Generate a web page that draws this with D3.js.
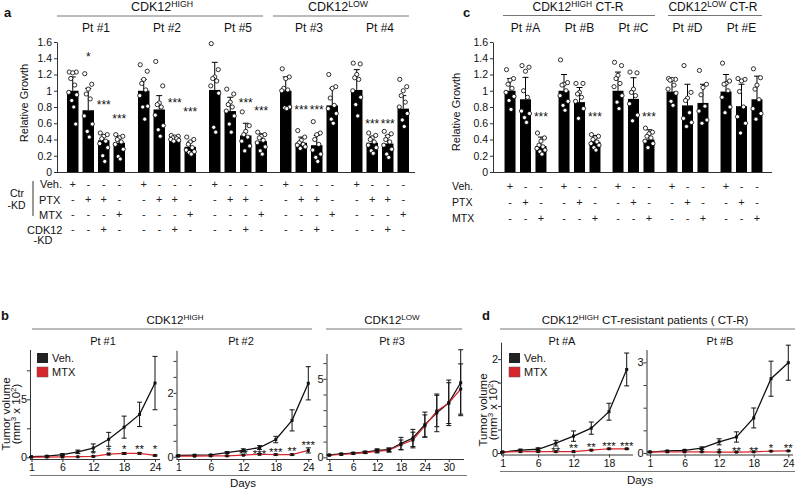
<!DOCTYPE html>
<html lang="en">
<head>
<meta charset="utf-8">
<title>CDK12 figure</title>
<script src="https://cdn.jsdelivr.net/npm/d3@7"></script>
<style>
  body { margin: 0; background: #fff; }
  svg { font-family: "Liberation Sans", Arial, Helvetica, sans-serif; }
</style>
</head>
<body>
<script>
// ---------- panel a : relative growth, Ctr-KD / CDK12-KD ----------
var groupsA = ["Pt #1", "Pt #2", "Pt #5", "Pt #3", "Pt #4"];
var meanA = [[1.0, 0.76, 0.39, 0.36], [1.0, 0.77, 0.41, 0.31], [1.01, 0.75, 0.45, 0.38],
             [1.0, 0.36, 0.33, 0.82], [1.01, 0.36, 0.35, 0.78]];
var sdA = [[0.17, 0.27, 0.07, 0.08], [0.14, 0.17, 0.03, 0.06], [0.34, 0.17, 0.15, 0.09],
           [0.17, 0.07, 0.12, 0.21], [0.25, 0.08, 0.10, 0.16]];
var dotsA = [
  [[1.23, 1.23, 1.22, 1.15, 1.07, 0.98, 0.95, 0.88, 0.80, 0.59],
   [1.21, 1.08, 1.02, 0.96, 0.90, 0.69, 0.59, 0.50, 0.43],
   [0.48, 0.46, 0.44, 0.41, 0.38, 0.35, 0.30, 0.20, 0.13],
   [0.46, 0.44, 0.42, 0.40, 0.37, 0.34, 0.28, 0.19, 0.16]],
  [[1.32, 1.24, 1.14, 1.09, 1.01, 0.94, 0.81, 0.80, 0.65],
   [1.36, 1.06, 0.85, 0.83, 0.80, 0.70, 0.57, 0.52, 0.44],
   [0.45, 0.44, 0.43, 0.42, 0.41, 0.40, 0.39, 0.38],
   [0.43, 0.40, 0.37, 0.34, 0.30, 0.27, 0.25, 0.24, 0.22]],
  [[1.58, 1.26, 1.17, 1.15, 1.12, 1.06, 0.97, 0.55, 0.49],
   [1.02, 0.96, 0.86, 0.83, 0.80, 0.75, 0.69, 0.59, 0.49],
   [0.74, 0.57, 0.50, 0.46, 0.43, 0.38, 0.32, 0.26],
   [0.49, 0.46, 0.44, 0.42, 0.39, 0.36, 0.31, 0.26, 0.22]],
  [[1.27, 1.17, 1.15, 1.03, 1.01, 1.0, 0.80, 0.79, 0.78],
   [0.51, 0.43, 0.39, 0.36, 0.34, 0.33, 0.31, 0.29],
   [0.62, 0.48, 0.46, 0.40, 0.34, 0.27, 0.22, 0.18, 0.13],
   [1.20, 1.05, 1.03, 0.91, 0.82, 0.78, 0.72, 0.65, 0.60]],
  [[1.34, 1.33, 1.20, 1.16, 1.14, 1.0, 0.92, 0.83, 0.69],
   [0.48, 0.45, 0.42, 0.40, 0.37, 0.33, 0.30, 0.26, 0.23],
   [0.50, 0.47, 0.44, 0.40, 0.37, 0.33, 0.28, 0.22, 0.18],
   [1.14, 1.05, 1.00, 0.94, 0.86, 0.80, 0.72, 0.64, 0.56]]
];
var starsA = [["", "*", "***", "***"], ["", "", "***", "***"], ["", "", "***", "***"],
              ["", "***", "***", ""], ["", "***", "***", ""]];
var starLvA = [[0, 1.45, 0.86, 0.69], [0, 0, 0.89, 0.77], [0, 0, 0.89, 0.79],
               [0, 0.80, 0.80, 0], [0, 0.63, 0.63, 0]];
var rowNamesA = ["Veh.", "PTX", "MTX", "CDK12"];
var signsA = [["+", "-", "-", "-"], ["-", "+", "+", "-"], ["-", "-", "-", "+"], ["-", "-", "+", "-"]];

// ---------- panel c : CT-resistant patients ----------
var groupsC = ["Pt #A", "Pt #B", "Pt #C", "Pt #D", "Pt #E"];
var meanC = [[1.0, 0.895, 0.32], [1.0, 0.86, 0.37], [1.0, 0.90, 0.40], [0.99, 0.82, 0.85], [0.99, 0.81, 0.895]];
var sdC = [[0.15, 0.27, 0.11], [0.20, 0.18, 0.08], [0.23, 0.26, 0.12], [0.16, 0.26, 0.23], [0.21, 0.27, 0.285]];
var dotsC = [
  [[1.26, 1.15, 1.13, 1.08, 1.03, 0.98, 0.93, 0.88, 0.77],
   [1.31, 1.29, 1.24, 1.0, 0.92, 0.75, 0.72, 0.67, 0.61],
   [0.48, 0.42, 0.38, 0.33, 0.31, 0.29, 0.27, 0.25, 0.22]],
  [[1.38, 1.10, 1.08, 1.07, 1.0, 0.94, 0.87, 0.82, 0.76],
   [1.09, 1.09, 0.98, 0.96, 0.92, 0.87, 0.78, 0.66],
   [0.46, 0.44, 0.42, 0.40, 0.37, 0.35, 0.33, 0.30, 0.27]],
  [[1.35, 1.31, 1.19, 1.15, 1.09, 1.05, 0.94, 0.86, 0.78],
   [1.23, 1.22, 1.02, 0.98, 0.94, 0.84, 0.70, 0.63],
   [0.54, 0.49, 0.47, 0.44, 0.42, 0.38, 0.35, 0.30]],
  [[1.15, 1.14, 1.14, 1.13, 1.07, 1.02, 0.97, 0.87, 0.82],
   [1.31, 0.98, 0.91, 0.88, 0.73, 0.66, 0.61, 0.56],
   [1.25, 1.08, 1.04, 0.95, 0.81, 0.75, 0.64, 0.60]],
  [[1.34, 1.12, 1.09, 1.08, 1.0, 0.92, 0.80, 0.73],
   [1.15, 1.14, 1.12, 0.99, 0.80, 0.68, 0.60, 0.48],
   [1.27, 1.16, 1.07, 1.02, 0.89, 0.78, 0.72, 0.65]]
];
var starsC = [["", "", "***"], ["", "", "***"], ["", "", "***"], ["", "", ""], ["", "", ""]];
var starLvC = [[0, 0, 0.72], [0, 0, 0.72], [0, 0, 0.72], [0, 0, 0], [0, 0, 0]];
var rowNamesC = ["Veh.", "PTX", "MTX"];
var signsC = [["+", "-", "-"], ["-", "+", "-"], ["-", "-", "+"]];

// ---------- panel b : xenografts, tumor volume (x10^2 mm3) ----------
var daysB1 = [1, 3, 6, 9, 12, 15, 18, 21, 24];
var vehB1 = [0.05, 0.10, 0.23, 0.47, 0.80, 1.55, 2.60, 3.70, 6.40];
var vehB1sd = [0.02, 0.04, 0.08, 0.15, 0.35, 0.60, 0.95, 1.05, 2.30];
var mtxB1 = [0.02, 0.02, 0.03, 0.05, 0.08, 0.28, 0.33, 0.34, 0.16];
var mtxB1sd = [0.01, 0.01, 0.01, 0.02, 0.04, 0.07, 0.08, 0.06, 0.05];
var starB1 = ["", "", "", "", "*", "*", "*", "**", "*"];
var starLvB1 = [0, 0, 0, 0, 0.47, 0.73, 0.90, 0.90, 0.93];

var daysB2 = [1, 3, 6, 9, 12, 15, 18, 21, 24];
var vehB2 = [0.04, 0.05, 0.06, 0.13, 0.20, 0.29, 0.54, 1.14, 2.30];
var vehB2sd = [0.01, 0.01, 0.01, 0.03, 0.05, 0.06, 0.10, 0.33, 0.52];
var mtxB2 = [0.02, 0.02, 0.03, 0.03, 0.05, 0.08, 0.07, 0.07, 0.20];
var mtxB2sd = [0.01, 0.01, 0.01, 0.01, 0.01, 0.02, 0.02, 0.02, 0.08];
var starB2 = ["", "", "", "", "**", "***", "***", "**", "***"];
var starLvB2 = [0, 0, 0, 0, 0.18, 0.18, 0.22, 0.27, 0.45];

var daysB3 = [1, 3, 6, 9, 12, 15, 18, 21, 24, 27, 30, 33];
var vehB3 = [0.15, 0.22, 0.27, 0.33, 0.44, 0.48, 0.87, 1.23, 2.08, 2.83, 3.47, 4.75];
var vehB3sd = [0.02, 0.03, 0.04, 0.06, 0.10, 0.12, 0.40, 0.55, 0.80, 1.20, 1.45, 2.10];
var mtxB3 = [0.13, 0.18, 0.24, 0.30, 0.38, 0.45, 0.80, 1.10, 2.00, 2.95, 3.45, 4.35];
var mtxB3sd = [0.02, 0.03, 0.04, 0.06, 0.10, 0.12, 0.30, 0.50, 0.70, 1.00, 1.30, 1.60];
var starB3 = ["", "", "", "", "", "", "", "", "", "", "", ""];
var starLvB3 = [0, 0, 0, 0, 0, 0, 0, 0, 0, 0, 0, 0];

// ---------- panel d : CT-resistant xenografts ----------
var daysDA = [1, 3, 6, 9, 12, 15, 18, 21];
var vehDA = [0.02, 0.06, 0.08, 0.21, 0.36, 0.53, 0.88, 1.78];
var vehDAsd = [0.01, 0.02, 0.03, 0.06, 0.11, 0.13, 0.18, 0.35];
var mtxDA = [0.02, 0.03, 0.03, 0.03, 0.03, 0.06, 0.09, 0.09];
var mtxDAsd = [0.01, 0.01, 0.01, 0.01, 0.01, 0.01, 0.01, 0.01];
var starDA = ["", "", "*", "**", "**", "**", "***", "***"];
var starLvDA = [0, 0, 0.10, 0.09, 0.155, 0.19, 0.20, 0.20];

var daysDB = [1, 3, 6, 9, 12, 15, 18, 21, 24];
var vehDB = [0.03, 0.07, 0.09, 0.16, 0.37, 0.53, 1.16, 2.46, 2.99];
var vehDBsd = [0.01, 0.01, 0.02, 0.04, 0.10, 0.17, 0.33, 0.58, 0.58];
var mtxDB = [0.04, 0.04, 0.04, 0.04, 0.03, 0.03, 0.04, 0.06, 0.07];
var mtxDBsd = [0.01, 0.01, 0.01, 0.01, 0.01, 0.01, 0.01, 0.01, 0.01];
var starDB = ["", "", "", "*", "*", "**", "**", "*", "**"];
var starLvDB = [0, 0, 0, 0.13, 0.13, 0.16, 0.16, 0.24, 0.24];

var RED = "#d9262c";
var jitter = [-3.5, 3.5, 0, -2, 2, -4, 4, -1, 1, 3];

var svg = d3.select("body").append("svg")
  .attr("width", 795)
  .attr("height", 490);

// heading text with optional superscript
function heading(x, y, main, sup, rest, size) {
  var t = svg.append("text").attr("x", x).attr("y", y)
    .attr("text-anchor", "middle").attr("font-size", size).attr("fill", "#111");
  t.append("tspan").text(main);
  if (sup) t.append("tspan").attr("font-size", size * 0.7).attr("dy", -size * 0.35).text(sup);
  if (rest) t.append("tspan").attr("dy", size * 0.35).text(rest);
  return t;
}
function hline(x1, x2, y) {
  svg.append("line").attr("x1", x1).attr("x2", x2).attr("y1", y).attr("y2", y)
    .attr("stroke", "#777").attr("stroke-width", 1);
}
function label(x, y, s, size, anchor, weight) {
  return svg.append("text").attr("x", x).attr("y", y).attr("font-size", size)
    .attr("text-anchor", anchor || "start").attr("font-weight", weight || "normal")
    .attr("fill", "#111").text(s);
}

// ---------------- bar panels ----------------
var yBar = d3.scaleLinear().domain([0, 1.6]).range([172, 42]);

function barPanel(o) {
  var gx = d3.scaleBand().domain(o.groups).range(o.range);
  var bx = d3.scaleBand().domain(d3.range(o.means[0].length))
    .range([0, gx.bandwidth()]).paddingInner(o.pi).paddingOuter(o.po);

  var ya = svg.append("g").attr("transform", "translate(" + o.axisX + ",0)")
    .call(d3.axisLeft(yBar).tickValues(d3.range(0, 1.61, 0.2))
      .tickFormat(function(d) { return +d.toFixed(1); }).tickSize(3).tickSizeOuter(0));
  ya.attr("font-family", null).attr("font-size", 10.5);
  ya.selectAll("path,line").attr("stroke", "#333");
  ya.selectAll("text").attr("fill", "#111").attr("x", -5);

  svg.append("line").attr("x1", o.axisX).attr("x2", o.xEnd)
    .attr("y1", yBar(0) + 0.5).attr("y2", yBar(0) + 0.5).attr("stroke", "#333");

  var cx = function(gi, j) { return gx(o.groups[gi]) + bx(j) + bx.bandwidth() / 2; };

  o.means.forEach(function(ms, gi) {
    var g = svg.append("g");
    g.selectAll("rect").data(ms).enter().append("rect")
      .attr("x", function(d, j) { return gx(o.groups[gi]) + bx(j); })
      .attr("y", function(d) { return yBar(d); })
      .attr("width", bx.bandwidth())
      .attr("height", function(d) { return yBar(0) - yBar(d); })
      .attr("fill", "#000");
    // error bars (upper only)
    ms.forEach(function(m, j) {
      var x = cx(gi, j), top = yBar(m + o.sds[gi][j]);
      g.append("line").attr("x1", x).attr("x2", x).attr("y1", yBar(m)).attr("y2", top)
        .attr("stroke", "#000").attr("stroke-width", 1);
      g.append("line").attr("x1", x - 3).attr("x2", x + 3).attr("y1", top).attr("y2", top)
        .attr("stroke", "#000").attr("stroke-width", 1);
      g.selectAll(null).data(o.dots[gi][j]).enter().append("circle")
        .attr("cx", function(d, i) { return x + jitter[i % jitter.length]; })
        .attr("cy", function(d) { return yBar(d); })
        .attr("r", 2.1)
        .attr("fill", "#fff").attr("stroke", "#000").attr("stroke-width", 0.8);
      if (o.stars[gi][j]) {
        g.append("text").attr("x", x).attr("y", yBar(o.starLv[gi][j]) + 7)
          .attr("text-anchor", "middle").attr("font-size", 12).attr("fill", "#111")
          .text(o.stars[gi][j]);
      }
    });
  });

  // patient labels
  o.groups.forEach(function(p) {
    label(gx(p) + gx.bandwidth() / 2, 32, p, 12, "middle");
  });

  // treatment table
  o.signs.forEach(function(row, r) {
    o.groups.forEach(function(p, gi) {
      row.forEach(function(s, j) {
        svg.append("text").attr("x", cx(gi, j)).attr("y", o.rowY[r] + 3.5)
          .attr("text-anchor", "middle").attr("font-size", 11).attr("fill", "#222")
          .text(s);
      });
    });
  });
}

barPanel({
  groups: groupsA, means: meanA, sds: sdA, dots: dotsA, stars: starsA, starLv: starLvA,
  signs: signsA, range: [60.5, 415.5], pi: 0.26, po: 0.42, axisX: 57, xEnd: 415,
  rowY: [184, 199.5, 214.5, 229.5]
});
barPanel({
  groups: groupsC, means: meanC, sds: sdC, dots: dotsC, stars: starsC, starLv: starLvC,
  signs: signsC, range: [498.5, 768.5], pi: 0.29, po: 0.39, axisX: 493, xEnd: 772,
  rowY: [186, 202, 218]
});

// panel a headings
label(4, 17, "a", 13, "start", "bold");
heading(162, 11, "CDK12", "HIGH", null, 12.5);
hline(57, 263, 16);
heading(338, 11, "CDK12", "LOW", null, 12.5);
hline(273, 409, 16);
label(0, 0, "Relative Growth", 11, "middle")
  .attr("transform", "translate(28,103) rotate(-90)");

// panel a row labels
label(40, 188, rowNamesA[0], 11);
label(39, 203.5, rowNamesA[1], 11);
label(39, 218.5, rowNamesA[2], 11);
label(27, 233.5, rowNamesA[3], 11);
label(43, 244, "-KD", 11, "middle");
label(17, 197, "Ctr", 10.5, "middle");
label(16.5, 209, "-KD", 10.5, "middle");
svg.append("line").attr("x1", 33).attr("x2", 33).attr("y1", 181).attr("y2", 216)
  .attr("stroke", "#333");

// panel c headings
label(463, 17, "c", 13, "start", "bold");
heading(578, 11, "CDK12", "HIGH", " CT-R", 12);
hline(503, 655, 15.5);
heading(713, 11, "CDK12", "LOW", " CT-R", 12);
hline(668, 762, 15.5);
label(0, 0, "Relative Growth", 11, "middle")
  .attr("transform", "translate(460,112) rotate(-90)");
label(452, 190, rowNamesC[0], 10.5);
label(452, 206, rowNamesC[1], 10.5);
label(452, 222, rowNamesC[2], 10.5);

// ---------------- growth curves ----------------
function curvePanel(o) {
  var n = o.days.length;
  var x = d3.scaleLinear().domain([0, n - 1]).range([o.x0, o.x1]);
  var y = d3.scaleLinear().domain([0, o.yMax]).range([o.zero, o.top]);

  var xa = svg.append("g").attr("transform", "translate(0," + o.axisY + ")")
    .call(d3.axisBottom(x)
      .tickValues(o.xLabels.map(function(d) { return o.days.indexOf(d); }))
      .tickFormat(function(i) { return o.days[i]; }).tickSize(3).tickSizeOuter(0));
  xa.attr("font-family", null).attr("font-size", 10.5);
  xa.select(".domain").attr("d", "M" + o.ax + ",0.5H" + o.xe);
  xa.selectAll("path,line").attr("stroke", "#333");
  xa.selectAll("text").attr("fill", "#111").attr("y", 5);

  var ya = svg.append("g").attr("transform", "translate(" + o.ax + ",0)")
    .call(d3.axisLeft(y).tickValues(d3.range(0, o.yMax + 1e-9, o.yStep))
      .tickFormat(function(d) { return o.yLabels.indexOf(d) >= 0 ? d : ""; })
      .tickSize(3).tickSizeOuter(0));
  ya.attr("font-family", null).attr("font-size", 11);
  ya.select(".domain").attr("d", "M0.5," + (o.axisY + 0.5) + "V" + o.top);
  ya.selectAll("path,line").attr("stroke", "#333");
  ya.selectAll("text").attr("fill", "#111").attr("x", -3);

  var line = d3.line().x(function(d, i) { return x(i); }).y(function(d) { return y(d); });

  [[o.veh, o.vehSd], [o.mtx, o.mtxSd]].forEach(function(s) {
    var g = svg.append("g");
    g.selectAll("g").data(s[0]).enter().append("path")
      .attr("d", function(d, i) {
        var xx = x(i), a = y(d + s[1][i]), b = y(Math.max(0, d - s[1][i]));
        return "M" + xx + "," + a + "V" + b + "M" + (xx - 2.5) + "," + a + "h5M" + (xx - 2.5) + "," + b + "h5";
      })
      .attr("stroke", "#111").attr("stroke-width", 1).attr("fill", "none");
  });
  svg.append("path").datum(o.veh).attr("d", line)
    .attr("fill", "none").attr("stroke", "#111").attr("stroke-width", 1.3);
  svg.append("path").datum(o.mtx).attr("d", line)
    .attr("fill", "none").attr("stroke", RED).attr("stroke-width", 1.2);
  [o.veh, o.mtx].forEach(function(s) {
    svg.append("g").selectAll("rect").data(s).enter().append("rect")
      .attr("x", function(d, i) { return x(i) - 1.5; })
      .attr("y", function(d) { return y(d) - 1.5; })
      .attr("width", 3).attr("height", 3).attr("fill", "#111");
  });
  svg.append("g").selectAll("text").data(o.stars).enter().append("text")
    .attr("x", function(d, i) { return x(i); })
    .attr("y", function(d, i) { return y(o.starLv[i]) + 6.5; })
    .attr("text-anchor", "middle").attr("font-size", 11.5).attr("fill", "#111")
    .text(function(d) { return d; });
}

curvePanel({ days: daysB1, veh: vehB1, vehSd: vehB1sd, mtx: mtxB1, mtxSd: mtxB1sd, stars: starB1, starLv: starLvB1,
  ax: 30, x0: 31.5, x1: 155, xe: 160, axisY: 459, zero: 457.3, top: 350, yMax: 9.25,
  yStep: 2.5, yLabels: [0, 5], xLabels: [1, 6, 12, 18, 24] });
curvePanel({ days: daysB2, veh: vehB2, vehSd: vehB2sd, mtx: mtxB2, mtxSd: mtxB2sd, stars: starB2, starLv: starLvB2,
  ax: 176.5, x0: 178.3, x1: 308.3, xe: 312, axisY: 459, zero: 456.8, top: 350.7, yMax: 3.32,
  yStep: 0.5, yLabels: [0, 2], xLabels: [1, 6, 12, 18, 24] });
curvePanel({ days: daysB3, veh: vehB3, vehSd: vehB3sd, mtx: mtxB3, mtxSd: mtxB3sd, stars: starB3, starLv: starLvB3,
  ax: 326.5, x0: 329.3, x1: 460.7, xe: 464, axisY: 459, zero: 457.3, top: 354, yMax: 6.58,
  yStep: 1, yLabels: [0, 5], xLabels: [1, 6, 12, 18, 24, 30] });
curvePanel({ days: daysDA, veh: vehDA, vehSd: vehDAsd, mtx: mtxDA, mtxSd: mtxDAsd, stars: starDA, starLv: starLvDA,
  ax: 501, x0: 502.7, x1: 626.7, xe: 633, axisY: 454.5, zero: 453, top: 342.7, yMax: 2.35,
  yStep: 0.5, yLabels: [0, 2], xLabels: [1, 6, 12, 18] });
curvePanel({ days: daysDB, veh: vehDB, vehSd: vehDBsd, mtx: mtxDB, mtxSd: mtxDBsd, stars: starDB, starLv: starLvDB,
  ax: 646.5, x0: 650, x1: 788.3, xe: 793, axisY: 454.5, zero: 453, top: 350, yMax: 3.41,
  yStep: 0.75, yLabels: [0, 3], xLabels: [1, 6, 12, 18, 24] });

// panel b headings
label(1, 320, "b", 13, "start", "bold");
heading(175, 324, "CDK12", "HIGH", null, 11.5);
hline(32, 312, 329);
heading(392, 324, "CDK12", "LOW", null, 11.5);
hline(326, 462, 329);
label(103, 345, "Pt #1", 11, "middle");
label(241, 345, "Pt #2", 11, "middle");
label(392, 345, "Pt #3", 11, "middle");
hline(30, 467, 475.5);
label(243, 487, "Days", 11.5, "middle");

// panel d headings
label(482, 320, "d", 13, "start", "bold");
heading(645, 324, "CDK12", "HIGH", " CT-resistant patients ( CT-R)", 11.5);
hline(500, 795, 329);
label(562, 345, "Pt #A", 11, "middle");
label(720, 345, "Pt #B", 11, "middle");
hline(500, 795, 471.5);
label(640, 484, "Days", 11.5, "middle");

// y titles for curves
function volTitle(x1, x2, cy) {
  label(0, 0, "Tumor volume", 11.5, "middle").attr("transform", "translate(" + x1 + "," + cy + ") rotate(-90)");
  var t = label(0, 0, "", 11.5, "middle").attr("transform", "translate(" + x2 + "," + cy + ") rotate(-90)");
  t.append("tspan").text("(mm");
  t.append("tspan").attr("font-size", 8).attr("dy", -4).text("3");
  t.append("tspan").attr("dy", 4).text(" x 10");
  t.append("tspan").attr("font-size", 8).attr("dy", -4).text("2");
  t.append("tspan").attr("dy", 4).text(")");
}
volTitle(10, 20, 414);
volTitle(487, 497, 410);

// legends
function legend(x, y) {
  svg.append("rect").attr("x", x).attr("y", y).attr("width", 11).attr("height", 10).attr("fill", "#222");
  svg.append("rect").attr("x", x).attr("y", y + 14).attr("width", 11).attr("height", 10)
    .attr("fill", RED).attr("stroke", "#555").attr("stroke-width", 0.5);
  label(x + 15, y + 9, "Veh.", 11);
  label(x + 15, y + 23, "MTX", 11);
}
legend(37, 353);
legend(509, 353);
</script>
</body>
</html>
